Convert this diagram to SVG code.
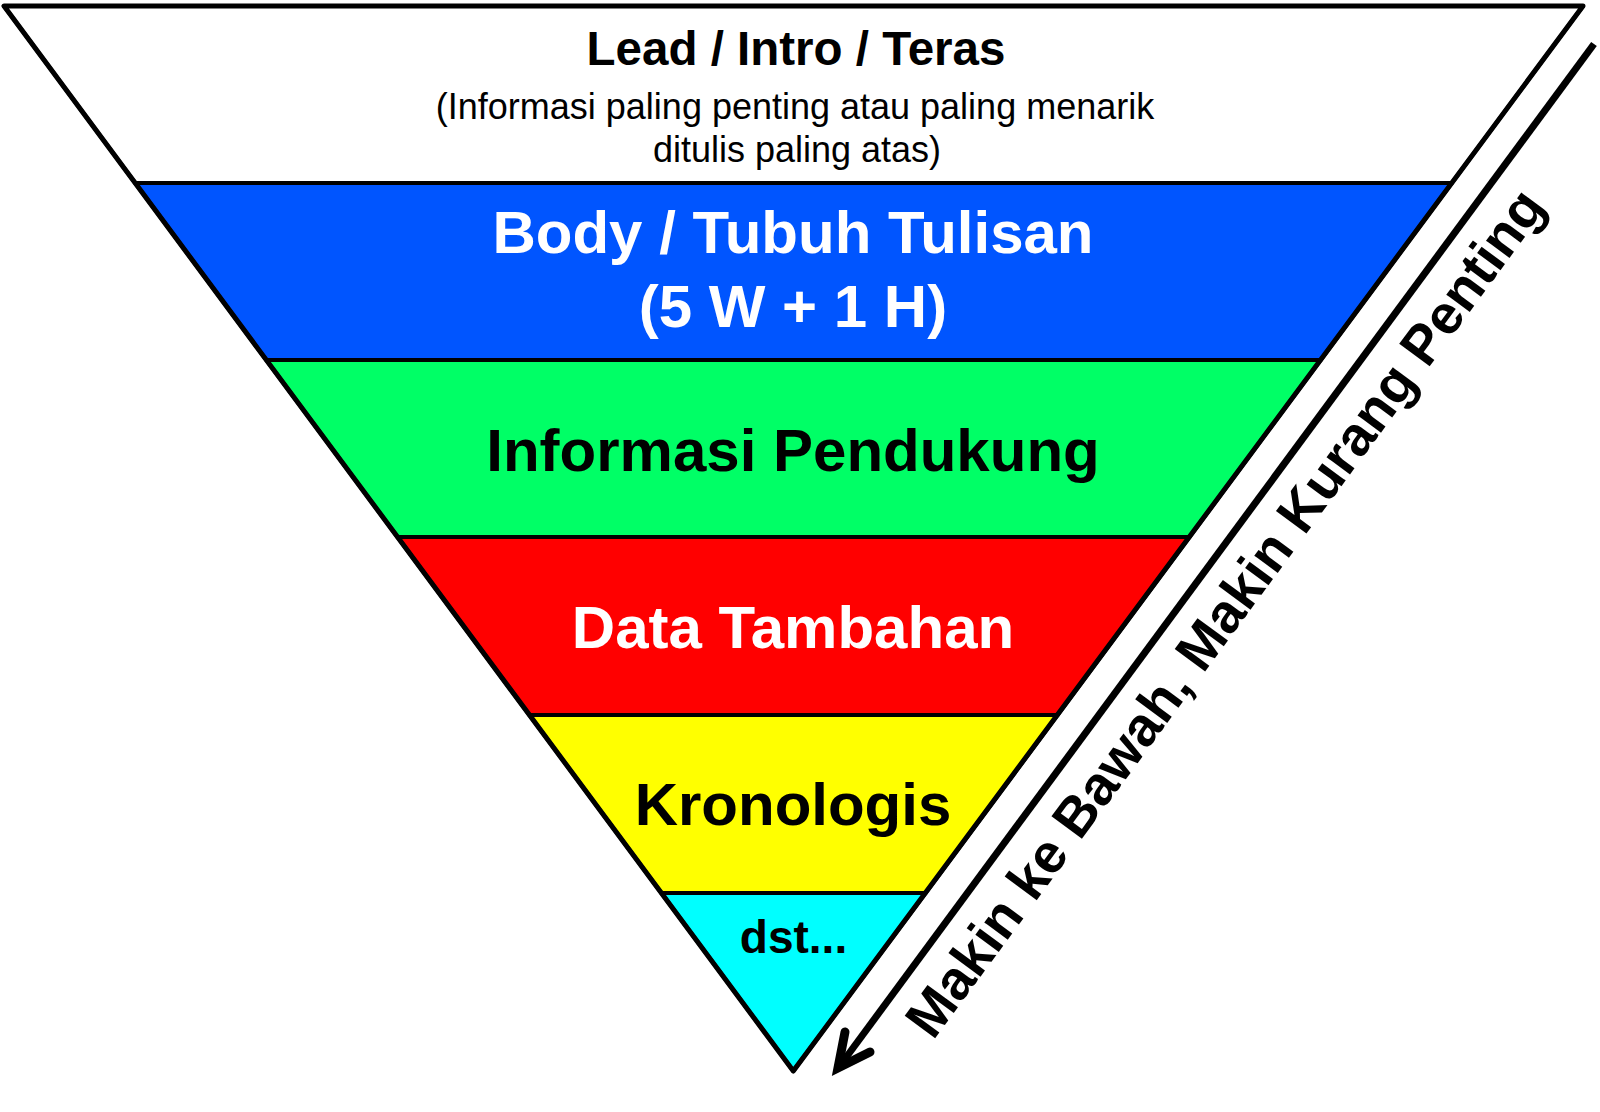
<svg xmlns="http://www.w3.org/2000/svg" width="1600" height="1112" viewBox="0 0 1600 1112">
  <style>
    .band { stroke: #000; stroke-width: 4; stroke-linejoin: round; }
    .t { font-family: "Liberation Sans", Arial, sans-serif; text-anchor: middle; }
    .b { font-weight: bold; }
  </style>
  <rect width="1600" height="1112" fill="#fff"/>
  <g id="lead">
    <polygon class="band" fill="#ffffff" points="4,6 1583,6 1451.8,183 135.2,183"/>
    <text class="t b" x="796" y="65" font-size="47.5" fill="#000">Lead / Intro / Teras</text>
    <text class="t" x="795" y="119" font-size="36" fill="#000">(Informasi paling penting atau paling menarik</text>
    <text class="t" x="797" y="162" font-size="36" fill="#000">ditulis paling atas)</text>
  </g>
  <g id="body">
    <polygon class="band" fill="#0055ff" points="135.2,183 1451.8,183 1320.7,360 266.3,360"/>
    <text class="t b" x="793" y="253" font-size="60" fill="#fff">Body / Tubuh Tulisan</text>
    <text class="t b" x="793" y="327" font-size="60" fill="#fff">(5 W + 1 H)</text>
  </g>
  <g id="pendukung">
    <polygon class="band" fill="#00ff66" points="266.3,360 1320.7,360 1189.5,537 397.5,537"/>
    <text class="t b" x="793" y="471" font-size="60" fill="#000">Informasi Pendukung</text>
  </g>
  <g id="tambahan">
    <polygon class="band" fill="#ff0000" points="397.5,537 1189.5,537 1057.6,715 529.4,715"/>
    <text class="t b" x="793" y="648" font-size="60" fill="#fff">Data Tambahan</text>
  </g>
  <g id="kronologis">
    <polygon class="band" fill="#ffff00" points="529.4,715 1057.6,715 925.6,893 661.4,893"/>
    <text class="t b" x="793" y="825" font-size="60" fill="#000">Kronologis</text>
  </g>
  <g id="dst">
    <polygon class="band" fill="#00ffff" points="661.4,893 925.6,893 793.3,1071"/>
    <text class="t b" x="793.5" y="953" font-size="46" fill="#000">dst...</text>
  </g>
  <polygon points="4,6 1583,6 793.3,1071" fill="none" stroke="#000" stroke-width="5" stroke-linejoin="round"/>
  <g id="connectors">
    <line x1="1594" y1="44" x2="839" y2="1067" stroke="#000" stroke-width="7"/>
    <polyline points="845,1032 838,1068 870,1052" fill="none" stroke="#000" stroke-width="9" stroke-linecap="round" stroke-linejoin="miter"/>
    <text class="t b" font-size="55" fill="#000" transform="translate(1240,624) rotate(-53.65)">Makin ke Bawah, Makin Kurang Penting</text>
  </g>
</svg>
